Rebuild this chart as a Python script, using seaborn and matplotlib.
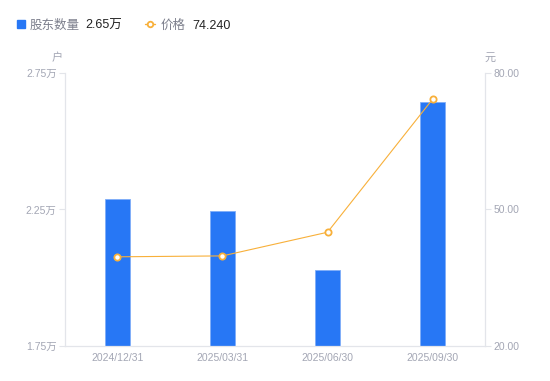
import numpy as np
import pandas as pd
import matplotlib
matplotlib.use('Agg')
import matplotlib.pyplot as plt
import seaborn as sns
from matplotlib.lines import Line2D

dates = ['2024/12/31', '2025/03/31', '2025/06/30', '2025/09/30']
holders = [2.29, 2.245, 2.03, 2.642]   # 万户
price = [39.6, 39.8, 45.0, 74.24]      # 元
left_ticks = [1.75, 2.25, 2.75]
right_ticks = [20, 50, 80]

sns.set_style('white')
plt.rcParams['font.family'] = ['Liberation Sans', 'Noto Sans CJK SC', 'DejaVu Sans']

blue = '#2777F5'
orange = '#F8B03A'
grey = '#A3A6B4'
axis_c = '#E3E5EA'

df = pd.DataFrame({'date': dates, 'holders': holders, 'price': price})

fig = plt.figure(figsize=(5.5, 3.81), dpi=100)
ax = fig.add_axes([0.118, 0.0919, 0.764, 0.7165])
sns.barplot(data=df, x='date', y='holders', color=blue, width=0.24,
            edgecolor='#7FAEF8', linewidth=0.6, saturation=1, ax=ax)
ax.set_ylim(1.75, 2.75)
ax.set_yticks(left_ticks)
ax.set_yticklabels([f'{t:.2f}万' for t in left_ticks])
ax.set_xlim(-0.5, 3.5)
ax.set_xlabel('')
ax.set_ylabel('')

ax2 = ax.twinx()
sns.lineplot(data=df, x='date', y='price', color=orange, linewidth=0.8,
             marker='o', markersize=4.5, markerfacecolor='white',
             markeredgecolor=orange, markeredgewidth=1.3, ax=ax2)
ax2.set_ylim(20, 80)
ax2.set_yticks(right_ticks)
ax2.set_yticklabels([f'{t:.2f}' for t in right_ticks])
ax2.set_ylabel('')

for a in (ax, ax2):
    for s in a.spines.values():
        s.set_visible(False)
ax.spines['left'].set_visible(True)
ax.spines['bottom'].set_visible(True)
ax2.spines['right'].set_visible(True)
for s in (ax.spines['left'], ax.spines['bottom'], ax2.spines['right']):
    s.set_color(axis_c)
    s.set_linewidth(0.9)

ax.tick_params(axis='y', length=4, width=0.8, color=axis_c, labelsize=7.5, labelcolor=grey, pad=2)
ax.tick_params(axis='x', length=0, labelsize=7.5, labelcolor=grey, pad=5)
ax2.tick_params(axis='y', length=4, width=0.8, color=axis_c, labelsize=7.5, labelcolor=grey, pad=2)

# unit labels
fig.text(57 / 550, 1 - 58 / 381, '户', fontsize=8, color=grey, ha='center', va='center')
fig.text(490 / 550, 1 - 58 / 381, '元', fontsize=8, color=grey, ha='center', va='center')

# legend
ly = 1 - 24 / 381
ty = 1 - 26 / 381
fig.add_artist(Line2D([21 / 550], [ly], marker='s', markersize=6, color=blue, linestyle='none'))
fig.text(30 / 550, ty, '股东数量', fontsize=9, color='#7C7F8C', va='center')
fig.text(85 / 550, ty, '2.65万', fontsize=9, color='#222222', va='center')
fig.add_artist(Line2D([145 / 550, 155 / 550], [ly, ly], color=orange, linewidth=1))
fig.add_artist(Line2D([150 / 550], [ly], marker='o', markersize=4, markerfacecolor='white',
                      markeredgecolor=orange, markeredgewidth=1.3, linestyle='none'))
fig.text(161 / 550, ty, '价格', fontsize=9, color='#7C7F8C', va='center')
fig.text(192 / 550, ty, '74.240', fontsize=9, color='#222222', va='center')

fig.savefig('out.png', dpi=100)
